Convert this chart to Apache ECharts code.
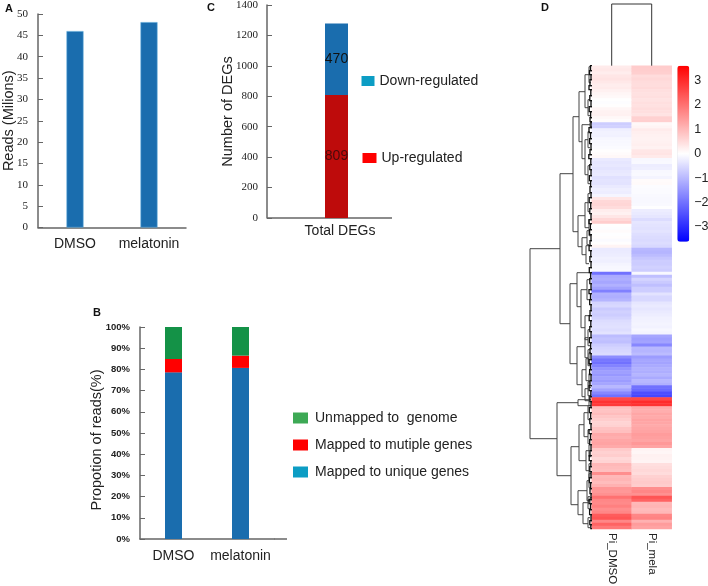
<!DOCTYPE html>
<html><head><meta charset="utf-8">
<style>html,body{margin:0;padding:0;background:#fff}#c{width:708px;height:586px}</style>
<script src="https://cdn.jsdelivr.net/npm/echarts@6/dist/echarts.min.js"></script>
</head><body><div id="c"></div>
<script>
// Panel A
const readCats = ['DMSO', 'melatonin'];
const readValues = [46, 48.1];
// Panel B
const uniqueReads = [78.6, 80.7];
const multipleReads = [6.3, 5.8];
const unmappedReads = [15.1, 13.5];
// Panel C
const degCats = ['Total DEGs'];
const upRegulated = [809];
const downRegulated = [470];
// Panel D heatmap
const heatCols = ['Pi_DMSO', 'Pi_mela'];
const piDmso = [.28,.32,.25,.35,.4,.33,.25,.28,.2,.12,.08,0,-.03,.02,.12,.18,.2,.1,.04,-.7,-.65,
 -.22,-.18,-.2,-.12,-.1,-.08,-.05,.02,.05,.1,-.3,-.35,-.32,-.38,-.33,-.3,-.42,-.38,-.4,
 -.3,-.22,-.25,-.14,.35,.55,.58,.5,.25,.2,.35,.55,.7,.02,-.03,.05,-.02,.03,-.05,.02,.15,
 -.3,-.28,-.25,-.2,-.22,-.15,-.12,-.1,-2,-1.2,-1.15,-1.25,-1.1,-1.3,-1.8,-1.1,-1.15,-1.05,
 -.6,-.55,-.75,-.65,-.7,-.6,-.5,-.45,-.42,-.48,-.4,-.95,-.85,-.9,-.7,-.6,-.55,-.5,
 -1.6,-1.9,-2,-1.75,-1.5,-1.35,-1.45,-1.3,-1.4,-1.25,-1,-1.3,-1.7,-2,2.6,2.9,2.8,
 .9,.85,.95,.8,.7,.6,.65,.85,.9,1.2,1.15,1.25,1.3,1.2,.75,.65,.7,.55,.6,1,.95,.9,1.6,
 1,1.05,.95,1.1,1.5,1.45,1.55,2,1.7,1.65,1.8,1.6,1.7,2.3,2.4,1.7,2.2,1.9];
const piMela = [.72,.7,.68,.5,.55,.5,.48,.52,.45,.42,.45,.4,.45,.42,.48,.45,.4,.65,.68,.1,.15,
 .28,.22,.2,.18,.2,.22,.18,.35,.38,.3,-.1,-.08,-.25,-.22,-.1,-.08,-.15,.06,.07,
 -.04,-.06,-.05,-.08,-.1,-.1,-.08,-.02,-.25,-.3,-.35,-.5,-.35,-.4,-.42,-.38,-.45,-.5,-.52,-.48,-.55,
 -1,-1.05,-.95,-.8,-.7,-.72,-.65,-.7,-.1,-.9,-.6,-.75,-.9,-.7,-.7,-.4,-.55,-.55,
 -.35,-.3,-.35,-.3,-.25,-.2,-.18,-.15,-.18,-.12,-.15,-1.25,-1.35,-1.3,-1.7,-1,-1.05,-.95,
 -1.4,-1.25,-1.3,-1.2,-1.1,-1.15,-1.05,-1.2,-1,-1.1,-2,-2.1,-2.5,-2.6,2.6,3,2.9,
 1.2,1.15,1.25,1.2,1.3,1.25,1.2,1.25,1.3,1.4,1.35,1.3,1.45,1.3,.15,.12,.2,.18,.15,.45,.5,.55,.5,
 .65,.7,.75,.7,1.6,1.7,1.55,2.4,2.2,1,1.05,.95,1,1.7,1.75,1.1,1.4,1.3];
const colourTicks = [-3,-2,-1,0,1,2,3];
// Dendrogram merges: [height, posA, posB, heightA, heightB]
const rowMerges = [
 [62,183,373,32,35],[32,108,258,19,22],[19,51,166,13,14],[13,26,76,7,10],[7,9,42,3,4],[10,59,93,2,7],
 [7,74,109,4,4],[14,150,181,7,10],[7,137,162,4,3],[10,172,189,5,6],[22,218,298,15,15],[15,207,241,1,11],
 [11,224,262,5,7],[15,281,319,7,10],[7,272,292,4,4],[10,304,331,6,7],[6,293,315,3,3],[7,323,335,4,3],
 [35,337,410,14,21],[14,334,340,1,1],[21,381,439,13,14],[13,359,395,8,6],[8,347,371,4,4],[6,385,405,3,3],
 [14,425,449,5,9],[5,415,435,3,2],[9,437,458,4,4],
 [3,1,17,1,1],[4,34,50,2,2],[2,57,61,0,0],[4,66,82,2,2],[4,100,118,2,1.5],[4,128,146,2,2],[3,154,170,1,1],
 [5,165,179,2,3],[6,180,198,3,3],[5,214,234,2,2],[7,250,274,3,4],[4,264,280,2,2],[4,284,300,2,2],[3,287,299,1,1],
 [3,308,322,1,1],[4,316,330,2,2],[3,330,340,1,1],[4,340,354,2,2],[4,364,378,2,2],[3,379,391,1,1],[3,398,412,1,1],
 [3,408,422,1,1],[2,432,438,0,0],[4,431,443,2,2],[4,452,462,2,2]
];
const rowTwigs = [
 [1.5,0,5],[2.5,5,9],[1,9,14],[2,14,20],[3,20,24],[1.2,24,30],[2.2,30,35],[1,35,41],[2.8,41,46],[1.4,46,52],
 [2,52,56],[1,56,62],[3,62,67],[1.5,67,73],[2.4,73,78],[1,78,84],[2,84,89],[3.2,89,93],[1.2,93,99],[2.2,99,104],
 [1,104,110],[2.6,110,115],[1.4,115,121],[2,121,127],[1,127,132],[2.8,132,137],[1.3,137,143],[2.2,143,148],[1,148,154],
 [3,154,158],[1.6,158,164],[2.4,164,169],[1,169,175],[2,175,180],[2.9,180,185],[1.2,185,191],[2.1,191,196],[1,196,202],
 [2.7,202,207],[1.4,207,213],[2.2,213,218],[1,218,224],[3,224,228],[1.5,228,234],[2.3,234,239],[1,239,245],[2,245,250],
 [2.8,250,255],[1.2,255,261],[2.2,261,266],[1,266,272],[2.6,272,277],[1.4,277,283],[2,283,288],[1,288,294],[3,294,298],
 [1.5,298,304],[2.4,304,309],[1,309,315],[2,315,320],[2.9,320,325],[1.2,325,331],[2.1,331,336],[1,336,342],[2.7,342,347],
 [1.4,347,353],[2.2,353,358],[1,358,364],[3,364,368],[1.5,368,374],[2.3,374,379],[1,379,385],[2,385,390],[2.8,390,395],
 [1.2,395,401],[2.2,401,406],[1,406,412],[2.6,412,417],[1.4,417,423],[2,423,428],[1,428,434],[3,434,438],[1.5,438,444],
 [2.4,444,449],[1,449,455],[2.2,455,459],[1.2,459,463]
];
const colMerges = [[62,0.5,1.5,0,0]];

const serif = '"Liberation Serif","Times New Roman",serif';
const sans = '"Liberation Sans",Arial,sans-serif';
const axisCol = '#666';
const barBlue = '#1A6DAE';
const edge = {borderColor:'#58A6D6', borderWidth:0.6};

function yAxisBase(extra){
  return Object.assign({type:'value', splitLine:{show:false},
    axisLine:{show:true, lineStyle:{color:axisCol,width:1.5}},
    axisTick:{show:true, inside:true, length:5, lineStyle:{color:axisCol,width:1}},
    nameLocation:'middle', nameMoveOverlap:false, nameTextStyle:{fontFamily:sans,fontSize:14.5,color:'#222'}
  }, extra);
}
function xLabel(extra){
  return Object.assign({fontFamily:sans,fontSize:14,color:'#222',interval:0}, extra);
}
function mergeSeries(data, xi, yi, vertical, colour, width){
  return {type:'custom', xAxisIndex:xi, yAxisIndex:yi, silent:true, clip:false, data:data,
    renderItem(p, api){
      const h=api.value(0), a=api.value(1), b=api.value(2), ha=api.value(3), hb=api.value(4);
      const pt = vertical ? (m,n)=>api.coord([n,m]) : (m,n)=>api.coord([m,n]);
      return {type:'polyline', silent:true,
        shape:{points:[pt(ha,a),pt(h,a),pt(h,b),pt(hb,b)]},
        style:{stroke:colour,lineWidth:width,fill:null}};
    }};
}
const heatData = [];
piDmso.forEach((v,i)=>heatData.push([0,i,v]));
piMela.forEach((v,i)=>heatData.push([1,i,v]));
const rowNames = piDmso.map((_,i)=>String(i));
const twigData = rowTwigs.map(t=>[t[0],t[1],t[2],0,0]);

const chart = echarts.init(document.getElementById('c'),null,{renderer:'canvas'});
chart.setOption({
  animation:false, backgroundColor:'#fff',
  title:[
    {text:'A',left:5,top:3},{text:'C',left:207,top:2},{text:'B',left:93,top:307},{text:'D',left:541,top:2}
  ].map(t=>Object.assign(t,{padding:0,textStyle:{fontFamily:sans,fontSize:11,fontWeight:'bold',color:'#111'}})),
  grid:[
    {left:38,top:14,width:148,height:213.5},
    {left:267,top:5,width:139,height:213},
    {left:140,top:327,width:134,height:212},
    {left:591.7,top:65.7,width:80,height:463.3},
    {left:520,top:65.7,width:72,height:463.3},
    {left:591.7,top:4,width:80,height:61.7},
    {left:677.3,top:65.7,width:12,height:176}
  ].map(g=>Object.assign(g,{outerBoundsMode:'none'})),
  xAxis:[
    {gridIndex:0,type:'category',data:readCats,axisTick:{show:false},
      axisLine:{lineStyle:{color:axisCol,width:1.5}},axisLabel:xLabel({margin:10})},
    {gridIndex:1,type:'category',data:degCats,axisTick:{show:false},axisLine:{show:false},
      axisLabel:xLabel({margin:6,padding:[0,0,0,7]})},
    {gridIndex:2,type:'category',data:readCats,axisTick:{show:false},
      axisLine:{lineStyle:{color:axisCol,width:1.5}},axisLabel:xLabel({margin:10})},
    {gridIndex:3,type:'category',data:heatCols,position:'bottom',axisTick:{show:false},axisLine:{show:false},
      splitLine:{show:false},axisLabel:{fontFamily:sans,fontSize:11.5,color:'#222',rotate:-90,margin:4,interval:0}},
    {gridIndex:4,type:'value',min:0,max:72,inverse:true,show:false},
    {gridIndex:5,type:'value',min:0,max:2,show:false},
    {gridIndex:6,type:'value',min:0,max:1,show:false}
  ],
  yAxis:[
    yAxisBase({gridIndex:0,min:0,max:50,interval:5,name:'Reads (Milions)',nameGap:22,
      axisLabel:{fontFamily:serif,fontSize:11,color:'#222',margin:10}}),
    yAxisBase({gridIndex:1,min:0,max:1400,interval:200,name:'Number of DEGs',nameGap:32,
      axisLabel:{fontFamily:serif,fontSize:11,color:'#222',margin:9,formatter:v=>String(v)}}),
    yAxisBase({gridIndex:2,min:0,max:100,interval:10,name:'Propotion of reads(%)',nameGap:36,
      nameTextStyle:{fontFamily:sans,fontSize:14.5,color:'#222',padding:[0,14,0,0]},
      axisLabel:{fontFamily:sans,fontSize:9.5,fontWeight:'bold',color:'#222',margin:10,formatter:'{value}%'}}),
    {gridIndex:3,type:'category',data:rowNames,inverse:true,show:false},
    {gridIndex:4,type:'value',min:0,max:463.3,inverse:true,show:false},
    {gridIndex:5,type:'value',min:0,max:62,show:false},
    {gridIndex:6,type:'value',min:-3.6,max:3.6,position:'right',splitLine:{show:false},axisLine:{show:false},
      axisTick:{show:false},axisLabel:{customValues:colourTicks,fontFamily:sans,fontSize:12.5,color:'#222',margin:5,
        formatter:v=>String(v).replace('-','\u2212')}}
  ],
  legend:[
    {left:293,top:411,orient:'vertical',padding:0,itemGap:13,itemWidth:15,itemHeight:11,icon:'rect',selectedMode:false,
      textStyle:{fontFamily:sans,fontSize:14,color:'#222',padding:[0,0,0,2]},
      data:[{name:'Unmapped to  genome',itemStyle:{color:'#3DA955',borderWidth:0}},
            {name:'Mapped to mutiple genes',itemStyle:{color:'#FF0000',borderWidth:0}},
            {name:'Mapped to unique genes',itemStyle:{color:'#0C9DC4',borderWidth:0}}]},
    {left:361.5,top:74,padding:0,itemWidth:13,itemHeight:10,icon:'rect',selectedMode:false,
      textStyle:{fontFamily:sans,fontSize:14,color:'#222'},
      data:[{name:'Down-regulated',itemStyle:{color:'#0C9DC4',borderWidth:0}}]},
    {left:362.5,top:151,padding:0,itemWidth:14,itemHeight:10,icon:'rect',selectedMode:false,
      textStyle:{fontFamily:sans,fontSize:14,color:'#222'},
      data:[{name:'Up-regulated',itemStyle:{color:'#FF0000',borderWidth:0}}]}
  ],
  visualMap:{type:'continuous',min:-3.6,max:3.6,seriesIndex:6,dimension:2,calculable:false,hoverLink:false,
    left:677.3,top:65.7,itemWidth:12,itemHeight:176,padding:0,text:null,showLabel:false,
    inRange:{color:['#0000FF','#FFFFFF','#FF0000']}},
  graphic:[
    {type:'line',silent:true,shape:{x1:274,y1:539,x2:287,y2:539},style:{stroke:axisCol,lineWidth:1.5}},
    {type:'line',silent:true,shape:{x1:267,y1:218,x2:392,y2:218},style:{stroke:axisCol,lineWidth:1.5}}
  ],
  series:[
    {type:'bar',name:'Reads',xAxisIndex:0,yAxisIndex:0,data:readValues,barWidth:17,itemStyle:Object.assign({color:barBlue},edge)},
    {type:'bar',name:'Up-regulated',xAxisIndex:1,yAxisIndex:1,stack:'deg',data:upRegulated,barWidth:23,
      itemStyle:{color:'#BE0B0B'},label:{show:true,position:'inside',fontFamily:sans,fontSize:14,color:'#4A0A0A'}},
    {type:'bar',name:'Down-regulated',xAxisIndex:1,yAxisIndex:1,stack:'deg',data:downRegulated,barWidth:23,
      itemStyle:{color:barBlue},label:{show:true,position:'inside',fontFamily:sans,fontSize:14,color:'#111'}},
    {type:'bar',name:'Mapped to unique genes',xAxisIndex:2,yAxisIndex:2,stack:'map',data:uniqueReads,barWidth:17,itemStyle:{color:barBlue}},
    {type:'bar',name:'Mapped to mutiple genes',xAxisIndex:2,yAxisIndex:2,stack:'map',data:multipleReads,barWidth:17,itemStyle:{color:'#FF0000'}},
    {type:'bar',name:'Unmapped to  genome',xAxisIndex:2,yAxisIndex:2,stack:'map',data:unmappedReads,barWidth:17,itemStyle:{color:'#149247'}},
    {type:'heatmap',xAxisIndex:3,yAxisIndex:3,data:heatData,silent:true,progressive:0},
    mergeSeries(rowMerges,4,4,false,'#444',1),
    mergeSeries(twigData,4,4,false,'#111',1.3),
    mergeSeries(colMerges,5,5,true,'#333',1)
  ]
});
</script></body></html>
